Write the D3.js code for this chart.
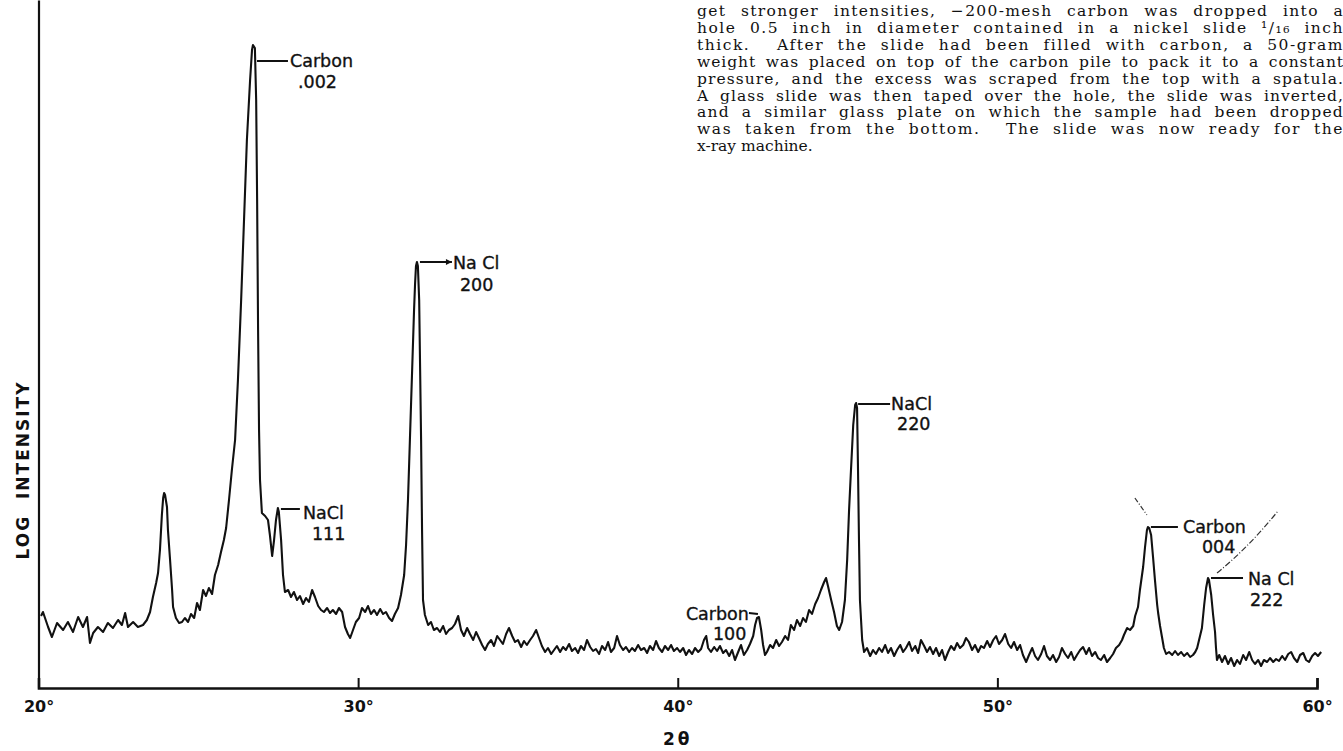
<!DOCTYPE html>
<html>
<head>
<meta charset="utf-8">
<script src="https://cdn.jsdelivr.net/npm/d3@7"></script>
<style>
  html, body { margin: 0; padding: 0; background: #fff; }
  svg { display: block; }
  .note { font-family: "DejaVu Serif", serif; font-size: 15.5px; fill: #111; white-space: pre; }
  .lbl { font-family: "DejaVu Sans", sans-serif; font-size: 17.5px; fill: #111; stroke: #111; stroke-width: 0.35px; }
  .axis-text { font-family: "DejaVu Sans", sans-serif; font-weight: bold; fill: #111; }
</style>
</head>
<body>
<div id="chart"></div>
<script>
// x-ray diffraction scan, [2θ in degrees, log intensity in arbitrary units]
const scan20to30 = [
  [20.08,7.2],[20.14,7.6],[20.30,6.1],[20.42,5.1],[20.58,6.5],[20.77,5.8],[20.92,6.6],[21.08,5.6],[21.24,7.1],[21.39,6.1],
  [21.52,7.1],[21.61,4.5],[21.71,5.5],[21.86,6.1],[22.02,5.6],[22.17,6.5],[22.33,6.0],[22.49,6.8],[22.61,6.3],[22.71,7.5],
  [22.80,6.1],[22.96,6.6],[23.11,6.1],[23.27,6.3],[23.39,6.8],[23.49,7.6],[23.58,9.1],[23.68,10.5],[23.74,11.5],[23.80,13.8],
  [23.86,17.3],[23.90,19.0],[23.93,19.5],[23.96,19.3],[24.02,18.1],[24.05,15.8],[24.11,13.1],[24.18,9.8],[24.21,8.1],[24.30,7.0],
  [24.40,6.5],[24.49,6.6],[24.58,7.0],[24.68,6.6],[24.77,7.4],[24.87,7.0],[24.96,8.5],[25.05,7.8],[25.15,9.8],[25.24,9.2],
  [25.33,10.0],[25.43,9.4],[25.52,11.3],[25.62,12.3],[25.71,13.6],[25.80,14.8],[25.87,16.0],[25.96,18.8],[26.05,21.8],[26.15,24.8],
  [26.24,30.8],[26.34,38.8],[26.43,46.8],[26.52,54.8],[26.62,60.8],[26.68,63.8],[26.71,64.3],[26.77,64.0],[26.81,58.8],[26.84,48.8],
  [26.87,35.8],[26.90,25.8],[26.93,20.8],[26.99,17.5],[27.09,17.2],[27.18,16.8],[27.24,15.3],[27.31,13.2],[27.37,14.8],[27.43,16.8],
  [27.49,18.0],[27.52,17.6],[27.59,14.8],[27.65,11.3],[27.71,9.6],[27.81,9.8],[27.90,9.1],[27.99,9.6],[28.09,8.8],[28.18,9.2],
  [28.28,8.4],[28.37,9.0],[28.46,8.6],[28.56,9.8],[28.65,9.1],[28.75,8.2],[28.84,7.8],[28.93,7.6],[29.03,8.0],[29.12,7.5],
  [29.21,7.8],[29.31,7.4],[29.40,8.0],[29.50,7.6],[29.59,6.1],[29.68,5.4],[29.75,5.0],[29.84,5.8],[29.93,6.6]
];
const scan30to40 = [
  [30.03,7.0],[30.12,8.0],[30.22,7.6],[30.31,8.2],[30.40,7.4],[30.50,7.8],[30.59,7.3],[30.69,7.9],[30.78,7.4],[30.87,7.6],
  [30.97,7.0],[31.06,6.7],[31.15,7.4],[31.25,8.0],[31.34,9.3],[31.44,11.3],[31.50,14.3],[31.56,18.8],[31.62,24.8],[31.69,31.8],
  [31.75,37.8],[31.78,40.3],[31.81,42.2],[31.84,42.6],[31.87,42.2],[31.91,38.8],[31.94,31.8],[31.97,24.8],[32.00,15.8],[32.03,8.8],
  [32.09,7.3],[32.19,6.3],[32.28,6.6],[32.37,5.8],[32.47,6.0],[32.56,5.6],[32.66,6.2],[32.75,5.4],[32.84,5.8],[32.94,6.0],
  [33.03,6.4],[33.13,7.2],[33.22,5.8],[33.31,5.2],[33.41,6.0],[33.50,5.4],[33.60,4.8],[33.69,5.6],[33.78,5.0],[33.88,4.3],
  [33.97,3.8],[34.06,4.4],[34.16,4.8],[34.25,4.2],[34.35,5.2],[34.44,4.8],[34.53,4.4],[34.63,5.4],[34.72,6.0],[34.82,5.2],
  [34.91,4.6],[35.00,4.8],[35.10,4.1],[35.19,4.7],[35.28,4.3],[35.38,4.8],[35.47,5.2],[35.57,5.8],[35.66,5.0],[35.75,4.2],
  [35.85,3.6],[35.94,4.0],[36.04,3.4],[36.13,3.8],[36.22,4.2],[36.32,3.6],[36.41,4.1],[36.50,3.8],[36.60,4.4],[36.69,3.7],
  [36.79,4.0],[36.88,3.5],[36.97,4.2],[37.07,3.8],[37.16,4.8],[37.26,4.1],[37.35,3.7],[37.44,3.9],[37.54,3.4],[37.63,4.2],
  [37.73,3.8],[37.82,4.6],[37.91,3.6],[38.01,4.0],[38.10,5.2],[38.19,4.3],[38.29,3.8],[38.38,4.1],[38.48,3.6],[38.57,4.0],
  [38.66,3.7],[38.76,4.3],[38.85,3.8],[38.95,4.0],[39.04,3.5],[39.13,4.2],[39.23,3.8],[39.32,4.7],[39.41,4.0],[39.51,3.6],
  [39.60,4.2],[39.70,3.8],[39.79,4.3],[39.88,3.7],[39.98,4.0]
];
const scan40to50 = [
  [40.07,3.6],[40.17,4.0],[40.26,3.3],[40.35,3.8],[40.45,3.4],[40.54,4.0],[40.64,3.6],[40.73,3.9],[40.82,4.8],[40.89,5.2],
  [40.95,4.0],[41.04,3.6],[41.14,4.1],[41.23,3.7],[41.32,4.2],[41.42,3.5],[41.51,3.8],[41.61,3.2],[41.70,3.8],[41.79,2.8],
  [41.89,3.6],[41.98,4.3],[42.07,3.3],[42.17,3.8],[42.26,4.4],[42.36,5.2],[42.42,6.3],[42.48,7.0],[42.54,7.1],[42.61,5.8],
  [42.67,4.3],[42.73,3.3],[42.79,3.6],[42.89,4.3],[42.98,4.0],[43.08,4.8],[43.17,4.2],[43.26,4.6],[43.36,5.2],[43.45,4.8],
  [43.54,6.3],[43.64,5.8],[43.73,6.8],[43.83,6.2],[43.92,7.0],[44.01,6.6],[44.11,7.8],[44.20,7.4],[44.30,8.4],[44.39,9.0],
  [44.48,9.8],[44.58,10.6],[44.64,11.0],[44.70,10.2],[44.80,8.8],[44.89,7.6],[44.98,6.2],[45.05,5.8],[45.14,6.6],[45.23,8.8],
  [45.30,12.8],[45.36,17.8],[45.42,21.8],[45.49,26.3],[45.55,28.3],[45.58,28.5],[45.61,28.0],[45.64,21.8],[45.67,14.8],[45.70,8.8],
  [45.77,4.8],[45.83,3.6],[45.92,4.0],[46.02,3.2],[46.11,3.8],[46.20,3.4],[46.30,4.0],[46.39,3.6],[46.49,4.3],[46.58,3.5],
  [46.67,4.0],[46.77,3.2],[46.86,3.8],[46.96,4.3],[47.05,3.6],[47.14,4.0],[47.24,4.6],[47.33,3.7],[47.43,4.2],[47.52,3.5],
  [47.61,4.8],[47.71,4.2],[47.80,3.6],[47.89,4.1],[47.99,3.4],[48.08,4.0],[48.18,3.2],[48.27,3.8],[48.36,2.8],[48.46,3.6],
  [48.55,4.2],[48.65,3.8],[48.74,4.5],[48.83,4.0],[48.93,4.3],[49.02,5.0],[49.11,4.6],[49.21,3.8],[49.30,4.3],[49.40,3.6],
  [49.49,4.2],[49.58,4.0],[49.68,4.7],[49.77,4.1],[49.87,4.8],[49.96,5.2]
];
const scan50to60 = [
  [50.05,4.4],[50.15,4.8],[50.24,5.4],[50.34,4.4],[50.43,4.0],[50.52,4.6],[50.62,3.8],[50.71,4.3],[50.80,3.3],[50.90,2.6],
  [50.99,3.3],[51.09,4.0],[51.18,3.2],[51.27,2.8],[51.37,3.4],[51.46,4.2],[51.55,3.2],[51.65,2.8],[51.74,3.3],[51.84,2.6],
  [51.93,3.1],[52.02,4.0],[52.12,3.4],[52.21,3.0],[52.31,3.6],[52.40,2.8],[52.49,3.3],[52.59,3.8],[52.68,4.1],[52.78,3.4],
  [52.87,4.0],[52.96,3.2],[53.06,3.6],[53.15,3.0],[53.24,2.8],[53.34,3.3],[53.43,2.6],[53.53,3.0],[53.62,3.4],[53.71,4.0],
  [53.81,4.3],[53.90,4.8],[53.96,5.3],[54.06,6.0],[54.15,5.8],[54.25,6.2],[54.31,7.2],[54.40,8.1],[54.46,9.8],[54.56,12.1],
  [54.62,14.1],[54.68,15.8],[54.71,16.1],[54.75,16.0],[54.81,15.3],[54.87,13.1],[54.93,10.8],[55.00,8.3],[55.03,7.5],[55.09,6.2],
  [55.15,5.1],[55.21,4.0],[55.28,3.4],[55.37,3.6],[55.47,3.3],[55.56,3.7],[55.65,3.3],[55.75,3.6],[55.84,3.2],[55.94,3.5],
  [56.03,3.1],[56.12,3.3],[56.19,3.6],[56.25,4.0],[56.31,4.8],[56.40,6.0],[56.47,8.3],[56.53,10.0],[56.59,11.0],[56.62,10.8],
  [56.69,9.3],[56.75,7.3],[56.81,5.6],[56.84,4.0],[56.87,2.8],[56.94,3.3],[57.03,2.6],[57.12,3.2],[57.22,2.4],[57.31,3.0],
  [57.41,2.2],[57.50,2.8],[57.59,2.4],[57.69,3.3],[57.78,2.8],[57.88,3.6],[57.97,2.8],[58.06,2.4],[58.16,2.8],[58.25,2.2],
  [58.34,2.8],[58.44,2.6],[58.53,3.0],[58.63,2.6],[58.72,2.9],[58.81,2.7],[58.91,3.2],[59.00,2.8],[59.10,3.4],[59.19,3.6],
  [59.28,3.0],[59.38,2.6],[59.47,3.3],[59.57,3.5],[59.66,2.8],[59.75,2.6],[59.85,3.2],[59.94,3.5],[60.03,3.2],[60.13,3.6]
];

const tickDegrees = [20, 30, 40, 50, 60];

// labelled reflections
const peakNames   = ["Carbon", "NaCl", "Na Cl", "Carbon", "NaCl", "Carbon", "Na Cl"];
const peakIndices = [".002", "111", "200", "100", "220", "004", "222"];
const peakTheta   = [26.71, 27.49, 31.84, 42.54, 45.58, 54.71, 56.59];
const peakValue   = [64.3, 18.0, 42.6, 7.1, 28.5, 16.1, 11.0];

const noteLines = [
  "get stronger intensities, \u2212200-mesh carbon was dropped into a",
  "hole 0.5 inch in diameter contained in a nickel slide \u00B9/\u2081\u2086 inch",
  "thick.  After the slide had been filled with carbon, a 50-gram",
  "weight was placed on top of the carbon pile to pack it to a constant",
  "pressure, and the excess was scraped from the top with a spatula.",
  "A glass slide was then taped over the hole, the slide was inverted,",
  "and a similar glass plate on which the sample had been dropped",
  "was taken from the bottom.  The slide was now ready for the",
  "x-ray machine."
];

const width = 1343, height = 751;
const margin = { top: 0, right: 26, bottom: 63, left: 38.5 };

const svg = d3.select('#chart').append('svg')
  .attr('width', width)
  .attr('height', height)
  .style('background', '#fff');

const x = d3.scaleLinear().domain([20, 60]).range([margin.left, width - margin.right]);
const y = d3.scaleLinear().domain([0, 68.8]).range([height - margin.bottom, margin.top]);

// axes
const xAxis = d3.axisBottom(x)
  .tickValues(tickDegrees)
  .tickSize(-10)
  .tickPadding(13)
  .tickFormat(d => d + '\u00B0');

svg.append('g')
  .attr('transform', `translate(0,${y(0)})`)
  .call(xAxis)
  .call(g => g.select('.domain').attr('stroke', '#111').attr('stroke-width', 2.6))
  .call(g => g.selectAll('.tick line').attr('stroke', '#111').attr('stroke-width', 2))
  .call(g => g.selectAll('.tick text')
    .attr('class', 'axis-text')
    .attr('font-size', 16)
    .attr('fill', '#111'));

svg.append('g')
  .attr('transform', `translate(${x(20)},0)`)
  .call(d3.axisLeft(y).tickValues([]).tickSizeOuter(0))
  .call(g => g.select('.domain').attr('stroke', '#111').attr('stroke-width', 2.2));

svg.append('text')
  .attr('class', 'axis-text')
  .attr('x', x(40))
  .attr('y', 745)
  .attr('text-anchor', 'middle')
  .attr('font-size', 17)
  .attr('letter-spacing', 3)
  .text('2\u03B8');

svg.append('text')
  .attr('class', 'axis-text')
  .attr('transform', 'translate(29,470) rotate(-90)')
  .attr('text-anchor', 'middle')
  .attr('font-size', 17)
  .attr('letter-spacing', 2)
  .style('white-space', 'pre')
  .text('LOG  INTENSITY');

// the scan
const scan = [...scan20to30, ...scan30to40, ...scan40to50, ...scan50to60];
const line = d3.line()
  .x(d => x(d[0]))
  .y(d => y(d[1]));

svg.append('path')
  .datum(scan)
  .attr('d', line)
  .attr('fill', 'none')
  .attr('stroke', '#111')
  .attr('stroke-width', 2.1)
  .attr('stroke-linejoin', 'round');

// leader lines and labels, offsets from the peak top in px
const labelLayout = [
  { lead: [[4, 16], [35, 16]], text: [37, 22], sub: [45, 43], anchor: 'start' },
  { lead: [[3, 1], [22, 1]], text: [25, 11], sub: [34, 32], anchor: 'start' },
  { lead: [[3, 0], [35, 0]], text: [36, 7], sub: [43, 29], anchor: 'start', arrow: true },
  { lead: [[-10, -4], [-1, -3]], text: [-10, 3], sub: [-46, 23], anchor: 'end' },
  { lead: [[2, 1], [34, 1]], text: [35, 7], sub: [41, 27], anchor: 'start' },
  { lead: [[3, 0], [30, 0]], text: [35, 6], sub: [54, 26], anchor: 'start' },
  { lead: [[3, 0], [35, 0]], text: [40, 7], sub: [42, 28], anchor: 'start' }
];

const labels = svg.append('g');
peakNames.forEach((name, i) => {
  const px = x(peakTheta[i]), py = y(peakValue[i]);
  const lay = labelLayout[i];
  labels.append('line')
    .attr('x1', px + lay.lead[0][0]).attr('y1', py + lay.lead[0][1])
    .attr('x2', px + lay.lead[1][0]).attr('y2', py + lay.lead[1][1])
    .attr('stroke', '#111').attr('stroke-width', 2);
  if (lay.arrow) {
    const ax = px + lay.lead[1][0], ay = py + lay.lead[1][1];
    labels.append('path')
      .attr('d', `M${ax},${ay} L${ax - 6},${ay - 3} L${ax - 6},${ay + 3} Z`)
      .attr('fill', '#111');
  }
  labels.append('text')
    .attr('class', 'lbl')
    .attr('x', px + lay.text[0]).attr('y', py + lay.text[1])
    .attr('text-anchor', lay.anchor)
    .style('white-space', 'pre')
    .text(name);
  labels.append('text')
    .attr('class', 'lbl')
    .attr('x', px + lay.sub[0]).attr('y', py + lay.sub[1])
    .text(peakIndices[i]);
});

// stray dash-dot pencil strokes near Carbon 004 / NaCl 222
const c004 = [x(peakTheta[5]), y(peakValue[5])];
const n222 = [x(peakTheta[6]), y(peakValue[6])];
svg.append('path')
  .attr('d', `M${c004[0] - 13},${c004[1] - 29} L${c004[0] - 1},${c004[1] - 12}`)
  .attr('fill', 'none').attr('stroke', '#333').attr('stroke-width', 1.2)
  .attr('stroke-dasharray', '5,2,1,2');
svg.append('path')
  .attr('d', `M${n222[0] + 9},${n222[1] - 5} Q${n222[0] + 40},${n222[1] - 30} ${n222[0] + 70},${n222[1] - 67}`)
  .attr('fill', 'none').attr('stroke', '#333').attr('stroke-width', 1.2)
  .attr('stroke-dasharray', '6,2,1,2');

// text of the page, justified: spread the spare room over letters and word gaps
const noteLeft = 697, noteRight = 1344;
const note = svg.append('g');
noteLines.forEach((t, i) => {
  const el = note.append('text')
    .attr('class', 'note')
    .attr('x', noteLeft)
    .attr('y', 16 + i * 16.9)
    .text(t);
  if (i < noteLines.length - 1) {
    const natural = el.node().getComputedTextLength();
    const spaces = (t.match(/ /g) || []).length;
    const extra = noteRight - noteLeft - natural;
    const ls = extra * 0.55 / t.length;
    el.attr('letter-spacing', ls);
    const after = el.node().getComputedTextLength();
    if (spaces > 0) el.attr('word-spacing', (noteRight - noteLeft - after) / spaces);
  }
});
</script>
</body>
</html>
